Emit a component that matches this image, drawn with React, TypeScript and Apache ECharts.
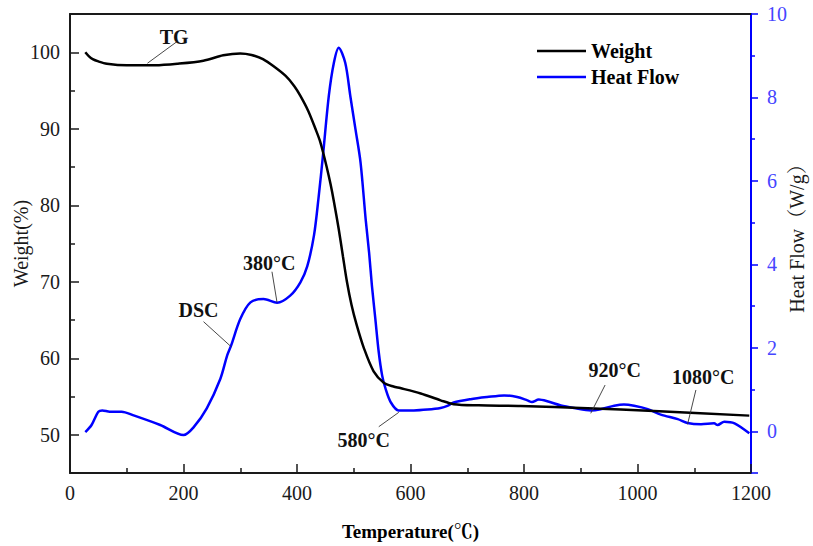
import React, { useEffect, useRef } from 'react';
import * as echarts from 'echarts';

const FONT = "'Liberation Serif', 'Times New Roman', 'Noto Serif CJK SC', 'Noto Sans CJK SC', serif";

const xTickValues = [0, 200, 400, 600, 800, 1000, 1200];
const weightTickValues = [50, 60, 70, 80, 90, 100];
const heatTickValues = [0, 2, 4, 6, 8, 10];

const weightData: [number, number][] = [
  [27, 100.0], [33, 99.5], [40, 99.1], [50, 98.8], [65, 98.5], [100, 98.3], [150, 98.3],
  [190, 98.5], [235, 98.9], [270, 99.6], [300, 99.85], [320, 99.65], [340, 99.1], [360, 98.1],
  [380, 96.9], [395, 95.6], [406, 94.3], [420, 92.3], [433, 89.9], [440, 88.5], [446, 86.9],
  [452, 85.1], [459, 82.8], [465, 80.5], [473.5, 76.9], [481, 73.3], [488, 70.0], [496, 67.0],
  [505, 64.4], [518, 61.3], [535, 58.3], [553, 56.8], [570, 56.3], [582, 56.1], [618, 55.4],
  [653, 54.5], [676, 54.0], [720, 53.85], [794, 53.76], [912, 53.46], [1029, 53.1], [1197, 52.5],
];

const heatFlowData: [number, number][] = [
  [27, -0.02], [38, 0.15], [50, 0.47], [57, 0.5], [70, 0.47], [91, 0.47], [112, 0.38],
  [159, 0.15], [200, -0.09], [218, 0.1], [241, 0.55], [265, 1.26], [277, 1.82], [284, 2.06],
  [300, 2.69], [318, 3.09], [341, 3.17], [365, 3.08], [388, 3.25], [406, 3.57], [418, 3.95],
  [430, 4.7], [438, 5.6], [446, 6.64], [456, 8.03], [465, 8.83], [473.5, 9.19], [485, 8.83],
  [494, 8.03], [503, 7.24], [512, 6.44], [521, 5.08], [527, 4.29], [532, 3.49], [538, 2.7],
  [544, 1.9], [550, 1.34], [556, 1.02], [565, 0.7], [579, 0.5], [606, 0.5], [630, 0.52],
  [653, 0.56], [665, 0.61], [676, 0.69], [706, 0.77], [735, 0.82], [765, 0.86], [788, 0.82],
  [806, 0.74], [814, 0.7], [826, 0.76], [841, 0.72], [865, 0.62], [888, 0.56], [918, 0.5],
  [935, 0.53], [959, 0.61], [976, 0.64], [994, 0.61], [1018, 0.53], [1041, 0.4], [1071, 0.29],
  [1088, 0.2], [1112, 0.17], [1135, 0.19], [1141, 0.15], [1153, 0.23], [1171, 0.19], [1197, -0.05],
];

// annotation texts, anchored in (temperature, weight) coordinates
const annotationTexts = ['TG', 'DSC', '380°C', '580°C', '920°C', '1080°C'];
const annotationAnchors: [number, number][] = [
  [183.5, 102.0], [226.5, 66.3], [351.2, 72.5], [517.6, 49.3], [960, 58.46], [1116, 57.55],
];
const leaderLines: [[number, number], [number, number]][] = [
  [[188.3, 101.38], [136.4, 98.56]],
  [[235.3, 64.78], [284.1, 61.5]],
  [[355.9, 71.31], [364.8, 67.31]],
  [[544.1, 51.05], [579.4, 52.93]],
  [[942.9, 56.5], [917.6, 52.8]],
  [[1102.9, 55.85], [1088.2, 51.37]],
];

export default function App() {
  const ref = useRef<HTMLDivElement>(null);
  useEffect(() => {
    if (!ref.current) return;
    const chart = echarts.init(ref.current, null, { renderer: 'svg' });
    chart.setOption({
      animation: false,
      backgroundColor: '#ffffff',
      grid: { left: 70, right: 62, top: 14, bottom: 73, containLabel: false, outerBoundsMode: 'none' },
      legend: {
        data: ['Weight', 'Heat Flow'],
        orient: 'vertical',
        left: 532,
        top: 36,
        icon: 'rect',
        itemWidth: 49,
        itemHeight: 2.5,
        itemGap: 6,
        textStyle: { fontFamily: FONT, fontWeight: 'bold', fontSize: 20, color: '#000' },
      },
      xAxis: [
        {
          type: 'value',
          min: 0,
          max: 1200,
          interval: 200,
          name: 'Temperature(℃)',
          nameLocation: 'middle',
          nameGap: 49,
          nameMoveOverlap: false,
          nameTextStyle: { fontFamily: FONT, fontWeight: 'bold', fontSize: 19, color: '#000' },
          axisLine: { onZero: false, lineStyle: { color: '#1a1a1a', width: 2 } },
          axisTick: { inside: true, length: 9, lineStyle: { color: '#1a1a1a', width: 1.5 } },
          minorTick: { show: true, splitNumber: 2, length: 5, lineStyle: { color: '#1a1a1a', width: 1.5 } },
          splitLine: { show: false },
          axisLabel: {
            margin: 10,
            fontFamily: FONT,
            fontSize: 20,
            color: '#1a1a1a',
            formatter: (v: number) => (xTickValues.includes(v) ? String(v) : ''),
          },
        },
        {
          type: 'value',
          position: 'top',
          min: 0,
          max: 1200,
          axisLine: { show: true, onZero: false, lineStyle: { color: '#1a1a1a', width: 2 } },
          axisTick: { show: false },
          axisLabel: { show: false },
          splitLine: { show: false },
        },
      ],
      yAxis: [
        {
          type: 'value',
          min: 45,
          max: 105,
          splitNumber: 6,
          name: 'Weight(%)',
          nameLocation: 'middle',
          nameGap: 39,
          nameRotate: 90,
          nameMoveOverlap: false,
          nameTextStyle: { fontFamily: FONT, fontSize: 20, color: '#1a1a1a' },
          axisLine: { show: true, onZero: false, lineStyle: { color: '#1a1a1a', width: 2 } },
          axisTick: { inside: true, length: 9, lineStyle: { color: '#1a1a1a', width: 1.5 } },
          minorTick: { show: true, splitNumber: 2, length: 5, lineStyle: { color: '#1a1a1a', width: 1.5 } },
          splitLine: { show: false },
          axisLabel: {
            margin: 10,
            fontFamily: FONT,
            fontSize: 20,
            color: '#1a1a1a',
            formatter: (v: number) => (weightTickValues.includes(v) ? String(v) : ''),
          },
        },
        {
          type: 'value',
          position: 'right',
          min: -1,
          max: 10,
          splitNumber: 5,
          name: 'Heat Flow（W/g）',
          nameLocation: 'middle',
          nameGap: 36,
          nameRotate: 90,
          nameMoveOverlap: false,
          nameTextStyle: { fontFamily: FONT, fontSize: 20, color: '#1a1a1a', padding: [0, 0, 0, 20] },
          axisLine: { show: true, onZero: false, lineStyle: { color: '#0000ff', width: 2 } },
          axisTick: { inside: false, length: 7, lineStyle: { color: '#0000ff', width: 1.5 } },
          minorTick: { show: true, splitNumber: 2, length: 4, lineStyle: { color: '#0000ff', width: 1.5 } },
          splitLine: { show: false },
          axisLabel: {
            margin: 16,
            fontFamily: FONT,
            fontSize: 20,
            color: '#4545ff',
            formatter: (v: number) => (heatTickValues.includes(v) ? String(v) : ''),
          },
        },
      ],
      series: [
        {
          name: 'Weight',
          type: 'line',
          xAxisIndex: 0,
          yAxisIndex: 0,
          data: weightData,
          symbol: 'none',
          smooth: 0.3,
          color: '#000000',
          lineStyle: { color: '#000000', width: 2.5 },
          z: 3,
          markLine: {
            silent: true,
            symbol: ['none', 'none'],
            label: { show: false },
            lineStyle: { color: '#333333', width: 0.9, type: 'solid' },
            data: leaderLines.map(([a, b]) => [{ coord: a }, { coord: b }]),
          },
          markPoint: {
            silent: true,
            symbol: 'rect',
            symbolSize: 1,
            itemStyle: { color: 'transparent' },
            label: {
              show: true,
              position: 'inside',
              formatter: '{b}',
              fontFamily: FONT,
              fontWeight: 'bold',
              fontSize: 20,
              color: '#111111',
            },
            data: annotationTexts.map((t, i) => ({ name: t, coord: annotationAnchors[i] })),
          },
        },
        {
          name: 'Heat Flow',
          type: 'line',
          xAxisIndex: 0,
          yAxisIndex: 1,
          data: heatFlowData,
          symbol: 'none',
          smooth: 0.3,
          color: '#0000ff',
          lineStyle: { color: '#0000ff', width: 2.5 },
          z: 2,
        },
      ],
    });
    return () => chart.dispose();
  }, []);
  return (
    <div
      ref={ref}
      style={{ position: 'fixed', left: 0, top: 0, width: 813, height: 546, background: '#fff' }}
    />
  );
}
